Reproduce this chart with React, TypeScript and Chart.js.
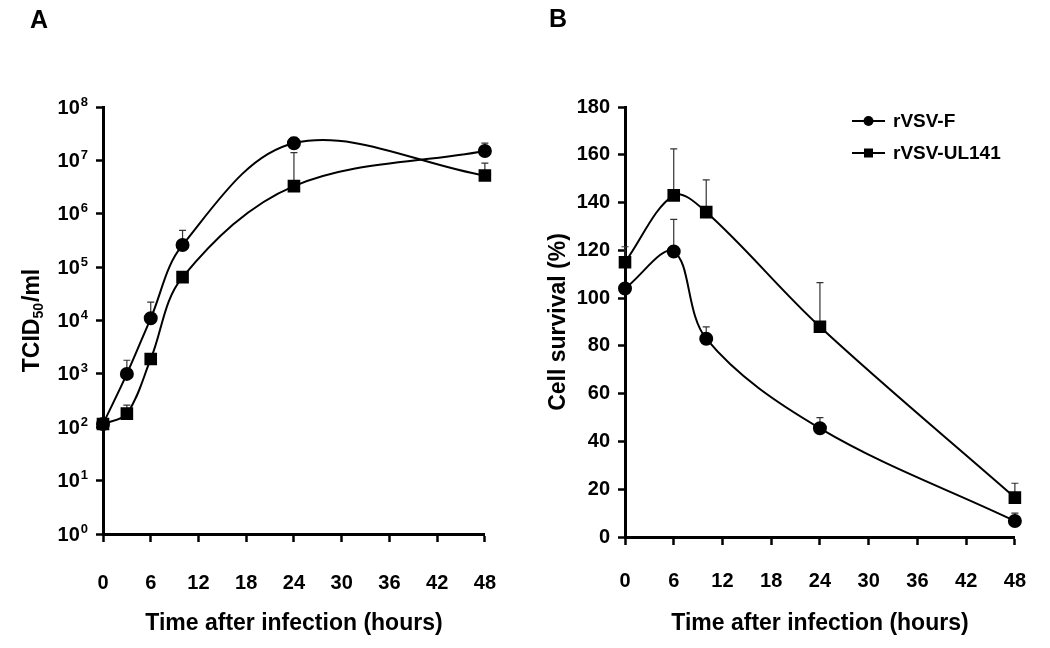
import React, { useEffect, useRef } from 'react';
import { Chart, registerables } from 'chart.js';
Chart.register(...registerables);

const FONT = '"Liberation Sans", Arial, Helvetica, sans-serif';

// ---- Panel A : virus titre (log scale) ----
// In the original figure the two smoothed lines cross between 24 h and 48 h:
// the line through the circles ends at the lower (square) 48 h point and
// vice versa, so the 48 h marker shapes are given per point.
const hoursA = [0, 3, 6, 10, 24, 48];
const titerF = [115, 1000, 11000, 260000, 21000000, 5200000];
const titerFErr = [null, 1800, 22000, 490000, 27000000, 8900000];
const markersF = ['circle', 'circle', 'circle', 'circle', 'circle', 'rect'];
const titerUL = [115, 180, 1900, 65000, 3300000, 15000000];
const titerULErr = [null, 260, 2300, 80000, 14000000, 21000000];
const markersUL = ['rect', 'rect', 'rect', 'rect', 'rect', 'circle'];
const exponentsA = [0, 1, 2, 3, 4, 5, 6, 7, 8];

// ---- Panel B : cell survival ----
const hoursB = [0, 6, 10, 24, 48];
const survF = [104, 119.5, 83, 45.5, 6.7];
const survFErr = [null, 133, 88, 50, 10];
const survUL = [115, 143, 136, 88, 16.5];
const survULErr = [121.5, 162.5, 149.5, 106.5, 22.5];
const survivalTicks = [0, 20, 40, 60, 80, 100, 120, 140, 160, 180];

const hourTicks = [0, 6, 12, 18, 24, 30, 36, 42, 48];
const seriesNames = ['rVSV-F', 'rVSV-UL141'];
const pointStyles = ['circle', 'rect'];
const xTitle = 'Time after infection (hours)';

const errorBarPlugin = {
  id: 'errorBars',
  beforeDatasetsDraw(chart: any) {
    const ctx = chart.ctx;
    const ys = chart.scales.y;
    chart.data.datasets.forEach((ds: any, i: number) => {
      const errs = ds.errUpper;
      if (!errs) return;
      const meta = chart.getDatasetMeta(i);
      ctx.save();
      ctx.strokeStyle = '#333';
      ctx.lineWidth = 1.2;
      meta.data.forEach((pt: any, j: number) => {
        const e = errs[j];
        if (e == null) return;
        const top = ys.getPixelForValue(e);
        ctx.beginPath();
        ctx.moveTo(pt.x, pt.y);
        ctx.lineTo(pt.x, top);
        ctx.moveTo(pt.x - 3.5, top);
        ctx.lineTo(pt.x + 3.5, top);
        ctx.stroke();
      });
      ctx.restore();
    });
  },
};

function makeDataset(label: string, xs: number[], ys: number[], errs: (number | null)[], styles: string | string[]) {
  const styleArr = Array.isArray(styles) ? styles : xs.map(() => styles);
  return {
    label,
    data: xs.map((x, i) => ({ x, y: ys[i] })),
    errUpper: errs,
    borderColor: '#000',
    backgroundColor: '#000',
    pointBackgroundColor: '#000',
    pointBorderColor: '#000',
    borderWidth: 2,
    pointStyle: styleArr,
    legendStyle: styleArr[0],
    pointRadius: styleArr.map((s) => (s === 'rect' ? 7.5 : 6)),
    tension: 0.35,
    clip: false,
  } as any;
}

function xScale(labelPad: number, height: number) {
  return {
    type: 'linear',
    min: 0,
    max: 48,
    afterBuildTicks: (axis: any) => {
      axis.ticks = hourTicks.map((v) => ({ value: v }));
    },
    afterFit: (scale: any) => {
      scale.height = height;
    },
    border: { display: true, color: '#000', width: 3 },
    grid: { display: true, drawOnChartArea: false, drawTicks: true, tickLength: 8, tickColor: '#000', tickWidth: 2.5 },
    ticks: { color: '#000', padding: labelPad, font: { family: FONT, size: 20, weight: 'bold' }, maxRotation: 0, autoSkip: false },
    title: { display: true, text: xTitle, color: '#000', padding: { top: 0, bottom: 11 }, font: { family: FONT, size: 23, weight: 'bold' } },
  } as any;
}

function drawLetter(ctx: CanvasRenderingContext2D, text: string, x: number, y: number) {
  ctx.save();
  ctx.fillStyle = '#000';
  ctx.font = `bold 25px ${FONT}`;
  ctx.textAlign = 'left';
  ctx.textBaseline = 'middle';
  ctx.fillText(text, x, y);
  ctx.restore();
}

const panelAPlugin = {
  id: 'panelA',
  afterDraw(chart: any) {
    const ctx = chart.ctx;
    const ys = chart.scales.y;
    drawLetter(ctx, 'A', 30, 21);
    // superscript tick labels
    ctx.save();
    ctx.fillStyle = '#000';
    ctx.textBaseline = 'middle';
    ctx.textAlign = 'right';
    exponentsA.forEach((e) => {
      const py = ys.getPixelForValue(Math.pow(10, e));
      const right = 88;
      ctx.font = `bold 13px ${FONT}`;
      const ew = ctx.measureText(String(e)).width;
      ctx.fillText(String(e), right, py - 5);
      ctx.font = `bold 20px ${FONT}`;
      ctx.fillText('10', right - ew - 1, py + 1);
    });
    ctx.restore();
    // y title with subscript
    const cy = (chart.chartArea.top + chart.chartArea.bottom) / 2;
    ctx.save();
    ctx.translate(33, cy);
    ctx.rotate(-Math.PI / 2);
    ctx.fillStyle = '#000';
    ctx.textBaseline = 'middle';
    ctx.textAlign = 'left';
    const big = `bold 23px ${FONT}`;
    const small = `bold 14px ${FONT}`;
    ctx.font = big;
    const w1 = ctx.measureText('TCID').width;
    const w3 = ctx.measureText('/ml').width;
    ctx.font = small;
    const w2 = ctx.measureText('50').width;
    const total = w1 + w2 + w3 + 1;
    let x = -total / 2;
    ctx.font = big;
    ctx.fillText('TCID', x, 0);
    x += w1;
    ctx.font = small;
    ctx.fillText('50', x, 6);
    x += w2 + 1;
    ctx.font = big;
    ctx.fillText('/ml', x, 0);
    ctx.restore();
  },
};

const panelBPlugin = {
  id: 'panelB',
  afterDraw(chart: any) {
    const ctx = chart.ctx;
    drawLetter(ctx, 'B', 24, 20);
    const rows = [121, 153];
    chart.data.datasets.forEach((ds: any, i: number) => {
      const y = rows[i];
      ctx.save();
      ctx.strokeStyle = '#000';
      ctx.fillStyle = '#000';
      ctx.lineWidth = 2;
      ctx.beginPath();
      ctx.moveTo(327, y);
      ctx.lineTo(360, y);
      ctx.stroke();
      if (ds.legendStyle === 'rect') {
        ctx.fillRect(343.5 - 4.5, y - 4.5, 9, 9);
      } else {
        ctx.beginPath();
        ctx.arc(343.5, y, 5, 0, Math.PI * 2);
        ctx.fill();
      }
      ctx.font = `bold 19px ${FONT}`;
      ctx.textAlign = 'left';
      ctx.textBaseline = 'middle';
      ctx.fillText(ds.label, 368, y + 1);
      ctx.restore();
    });
  },
};

function PanelA() {
  const ref = useRef<HTMLCanvasElement>(null);
  useEffect(() => {
    const chart = new Chart(ref.current as HTMLCanvasElement, {
      type: 'line',
      data: {
        datasets: [
          makeDataset(seriesNames[0], hoursA, titerF, titerFErr, markersF),
          makeDataset(seriesNames[1], hoursA, titerUL, titerULErr, markersUL),
        ],
      },
      options: {
        animation: false,
        responsive: false,
        layout: { padding: { left: 0, top: 107, right: 38, bottom: 0 } },
        plugins: { legend: { display: false }, tooltip: { enabled: false } },
        scales: {
          x: xScale(29, 114),
          y: {
            type: 'logarithmic',
            min: 1,
            max: 1e8,
            afterBuildTicks: (axis: any) => {
              axis.ticks = exponentsA.map((e) => ({ value: Math.pow(10, e) }));
            },
            afterFit: (scale: any) => {
              scale.width = 103;
            },
            border: { display: true, color: '#000', width: 3 },
            grid: { display: true, drawOnChartArea: false, drawTicks: true, tickLength: 7, tickColor: '#000', tickWidth: 2.5 },
            ticks: { callback: () => '', padding: 8 },
            title: { display: false },
          },
        },
      } as any,
      plugins: [errorBarPlugin, panelAPlugin],
    });
    return () => chart.destroy();
  }, []);
  return <canvas ref={ref} width={525} height={648} style={{ width: 525, height: 648, display: 'block' }} />;
}

function PanelB() {
  const ref = useRef<HTMLCanvasElement>(null);
  useEffect(() => {
    const chart = new Chart(ref.current as HTMLCanvasElement, {
      type: 'line',
      data: {
        datasets: [
          makeDataset(seriesNames[0], hoursB, survF, survFErr, pointStyles[0]),
          makeDataset(seriesNames[1], hoursB, survUL, survULErr, pointStyles[1]),
        ],
      },
      options: {
        animation: false,
        responsive: false,
        layout: { padding: { left: 0, top: 107, right: 30, bottom: 0 } },
        plugins: { legend: { display: false }, tooltip: { enabled: false } },
        scales: {
          x: xScale(24, 111),
          y: {
            type: 'linear',
            min: 0,
            max: 180,
            afterBuildTicks: (axis: any) => {
              axis.ticks = survivalTicks.map((v) => ({ value: v }));
            },
            afterFit: (scale: any) => {
              scale.width = 100;
            },
            border: { display: true, color: '#000', width: 3 },
            grid: { display: true, drawOnChartArea: false, drawTicks: true, tickLength: 7, tickColor: '#000', tickWidth: 2.5 },
            ticks: { color: '#000', padding: 8, font: { family: FONT, size: 20, weight: 'bold' } },
            title: { display: true, text: 'Cell survival (%)', color: '#000', padding: { top: 20, bottom: 0 }, font: { family: FONT, size: 23, weight: 'bold' } },
          },
        },
      } as any,
      plugins: [errorBarPlugin, panelBPlugin],
    });
    return () => chart.destroy();
  }, []);
  return <canvas ref={ref} width={525} height={648} style={{ width: 525, height: 648, display: 'block' }} />;
}

export default function App() {
  return (
    <div style={{ position: 'fixed', left: 0, top: 0, width: 1050, height: 648, background: '#fff', overflow: 'hidden' }}>
      <div style={{ position: 'absolute', left: 0, top: 0 }}>
        <PanelA />
      </div>
      <div style={{ position: 'absolute', left: 525, top: 0 }}>
        <PanelB />
      </div>
    </div>
  );
}
